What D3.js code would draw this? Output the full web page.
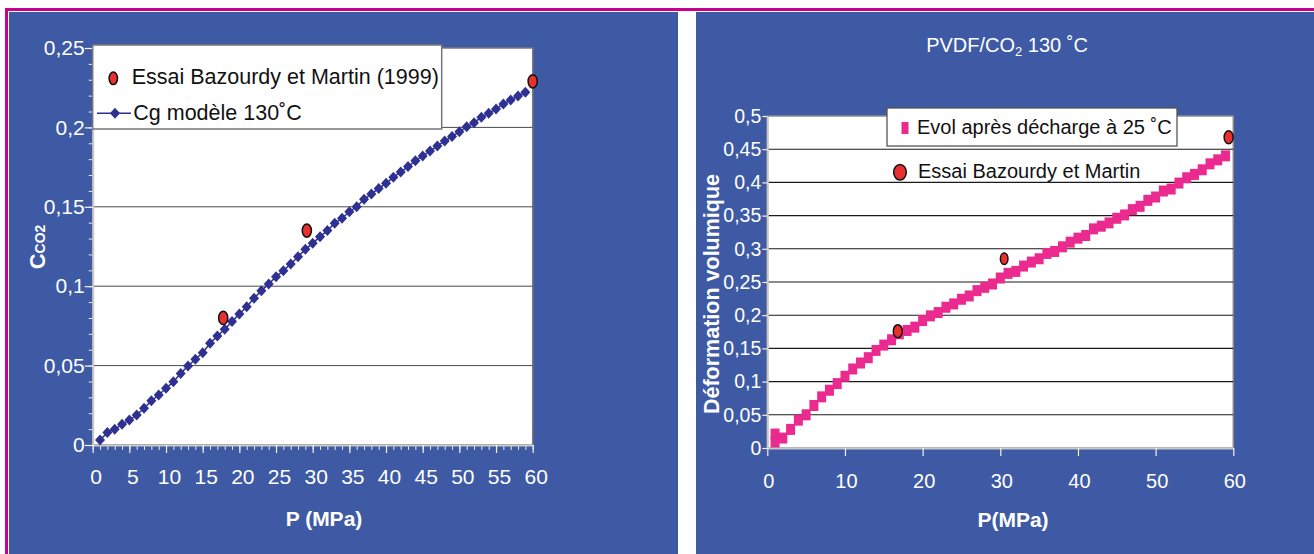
<!DOCTYPE html>
<html>
<head>
<meta charset="utf-8">
<script src="https://d3js.org/d3.v7.min.js"></script>
<style>
html, body { margin: 0; padding: 0; background: #fff; }
svg { display: block; }
</style>
</head>
<body>
<svg id="chart" width="1314" height="554"></svg>
<script>
// ---- Left chart data: CO2 concentration vs pressure
const pressureLeft = [1, 2, 3, 4, 5, 6, 7, 8, 9, 10, 11, 12, 13, 14, 15, 16, 17, 18, 19, 20,
    21, 22, 23, 24, 25, 26, 27, 28, 29, 30, 31, 32, 33, 34, 35, 36, 37, 38, 39, 40,
    41, 42, 43, 44, 45, 46, 47, 48, 49, 50, 51, 52, 53, 54, 55, 56, 57, 58, 59];
const ccoModel = [0.0031, 0.0078, 0.0099, 0.013, 0.0157, 0.0189, 0.0231, 0.0279, 0.0315, 0.0357,
    0.0399, 0.0451, 0.0497, 0.054, 0.0581, 0.064, 0.0686, 0.0729, 0.0777, 0.0825,
    0.0871, 0.0924, 0.0972, 0.1014, 0.106, 0.1098, 0.114, 0.1186, 0.1232, 0.127,
    0.1312, 0.135, 0.1396, 0.1428, 0.1469, 0.1501, 0.1547, 0.1581, 0.1616, 0.1648,
    0.1686, 0.1719, 0.1753, 0.179, 0.182, 0.1851, 0.1883, 0.1914, 0.1942, 0.1973,
    0.2004, 0.203, 0.2064, 0.2089, 0.2116, 0.2147, 0.2173, 0.2198, 0.2221];
const essaiLeftP = [17.8, 29.2, 60];
const essaiLeftC = [0.080, 0.135, 0.229];
const leftXTicks = [0, 5, 10, 15, 20, 25, 30, 35, 40, 45, 50, 55, 60];
const leftYTicks = [0, 0.05, 0.1, 0.15, 0.2, 0.25];
const leftYLabels = ["0", "0,05", "0,1", "0,15", "0,2", "0,25"];

// ---- Right chart data: volume deformation vs pressure
const pressureRight = [1, 1, 2, 3, 4, 5, 6, 7, 8, 9, 10, 11, 12, 13, 14, 15, 16, 17, 18, 19, 20,
    21, 22, 23, 24, 25, 26, 27, 28, 29, 30, 31, 32, 33, 34, 35, 36, 37, 38, 39, 40,
    41, 42, 43, 44, 45, 46, 47, 48, 49, 50, 51, 52, 53, 54, 55, 56, 57, 58, 59];
const deformation = [0.021, 0.009, 0.015, 0.028, 0.042, 0.050, 0.064, 0.077, 0.087, 0.097, 0.108,
    0.119, 0.128, 0.136, 0.147, 0.155, 0.163, 0.172, 0.177, 0.182, 0.192,
    0.199, 0.204, 0.212, 0.217, 0.224, 0.229, 0.237, 0.242, 0.247, 0.256,
    0.263, 0.266, 0.274, 0.280, 0.285, 0.293, 0.296, 0.303, 0.310, 0.316,
    0.320, 0.330, 0.334, 0.339, 0.346, 0.351, 0.359, 0.364, 0.373, 0.378,
    0.387, 0.390, 0.399, 0.407, 0.412, 0.419, 0.428, 0.434, 0.440];
const essaiRightP = [16.8, 30.5, 59.4];
const essaiRightD = [0.176, 0.285, 0.468];
const rightXTicks = [0, 10, 20, 30, 40, 50, 60];
const rightYTicks = [0, 0.05, 0.1, 0.15, 0.2, 0.25, 0.3, 0.35, 0.4, 0.45, 0.5];
const rightYLabels = ["0", "0,05", "0,1", "0,15", "0,2", "0,25", "0,3", "0,35", "0,4", "0,45", "0,5"];

const BLUE = "#3e5aa4";
const MAGENTA = "#c8008e";
const NAVY = "#2e3192";
const PINK = "#ea2a8f";
const RED = "#e8302e";
const FONT = "'Liberation Sans', Arial, Helvetica, sans-serif";

const svg = d3.select("#chart").attr("font-family", FONT);

// page frame: blue panels, magenta rules
svg.append("rect").attr("x", 0).attr("y", 0).attr("width", 1314).attr("height", 554).attr("fill", "#fff");
svg.append("rect").attr("x", 9).attr("y", 12).attr("width", 669).attr("height", 542).attr("fill", BLUE);
svg.append("rect").attr("x", 696).attr("y", 12).attr("width", 618).attr("height", 542).attr("fill", BLUE);
svg.append("rect").attr("x", 5).attr("y", 8).attr("width", 1309).attr("height", 3).attr("fill", MAGENTA);
svg.append("rect").attr("x", 5).attr("y", 8).attr("width", 3).attr("height", 546).attr("fill", MAGENTA);

function styleAxis(g, size) {
    g.attr("font-family", FONT).attr("font-size", size);
    g.select(".domain").attr("stroke", "#c8c8c8").attr("stroke-width", 2);
    g.selectAll(".tick line").attr("stroke", "#f2f2f2").attr("stroke-width", 1.2);
    g.selectAll(".tick text").attr("fill", "#fff");
}

const diamond = "M0,-5.5L5,0L0,5.5L-5,0Z";

// ================= LEFT CHART =================
const xL = d3.scaleLinear().domain([0, 60]).range([92.7, 532.7]);
const yL = d3.scaleLinear().domain([0, 0.25]).range([445, 48]);

svg.append("rect")
    .attr("x", xL(0)).attr("y", yL(0.25))
    .attr("width", xL(60) - xL(0)).attr("height", yL(0) - yL(0.25))
    .attr("fill", "#fff").attr("stroke", "#7a7a7a").attr("stroke-width", 1.5);

svg.append("g").selectAll("line")
    .data(leftYTicks.slice(1, -1))
    .join("line")
    .attr("x1", xL(0)).attr("x2", xL(60))
    .attr("y1", d => yL(d)).attr("y2", d => yL(d))
    .attr("stroke", "#4a4a4a").attr("stroke-width", 1);

// minor ticks
svg.append("g")
    .attr("transform", `translate(${xL(0)},0)`)
    .call(d3.axisLeft(yL).tickValues(d3.range(0, 0.2501, 0.01)).tickSize(4).tickFormat(""))
    .call(g => { g.select(".domain").remove(); g.selectAll("line").attr("stroke", "#e8e8e8"); });
svg.append("g")
    .attr("transform", `translate(0,${yL(0)})`)
    .call(d3.axisBottom(xL).tickValues(d3.range(0, 61, 1)).tickSize(5).tickFormat(""))
    .call(g => { g.select(".domain").remove(); g.selectAll("line").attr("stroke", "#e8e8e8"); });

svg.append("g")
    .attr("transform", `translate(${xL(0)},0)`)
    .call(d3.axisLeft(yL).tickValues(leftYTicks).tickFormat((d, i) => leftYLabels[i])
        .tickSize(8).tickSizeOuter(0).tickPadding(0))
    .call(g => styleAxis(g, 21));

svg.append("g")
    .attr("transform", `translate(0,${yL(0)})`)
    .call(d3.axisBottom(xL).tickValues(leftXTicks).tickSize(8).tickSizeOuter(0).tickPadding(16))
    .call(g => styleAxis(g, 21))
    .call(g => g.selectAll(".tick text").attr("dx", 3));

// model line + diamonds
const leftPts = pressureLeft.map((p, i) => [p, ccoModel[i]]);
svg.append("path")
    .datum(leftPts)
    .attr("fill", "none").attr("stroke", NAVY).attr("stroke-width", 1.5)
    .attr("d", d3.line().x(d => xL(d[0])).y(d => yL(d[1])));
svg.append("g").selectAll("path")
    .data(leftPts)
    .join("path")
    .attr("d", diamond)
    .attr("transform", d => `translate(${xL(d[0])},${yL(d[1])})`)
    .attr("fill", NAVY);

// test points
svg.append("g").selectAll("ellipse")
    .data(essaiLeftP.map((p, i) => [p, essaiLeftC[i]]))
    .join("ellipse")
    .attr("cx", d => xL(d[0])).attr("cy", d => yL(d[1]))
    .attr("rx", 4.6).attr("ry", 6.6)
    .attr("fill", RED).attr("stroke", "#111").attr("stroke-width", 1.5);

// legend
const legL = svg.append("g");
legL.append("rect").attr("x", 92.7).attr("y", 45).attr("width", 349).attr("height", 84)
    .attr("fill", "#fff").attr("stroke", "#777").attr("stroke-width", 1.5);
legL.append("ellipse").attr("cx", 113.3).attr("cy", 78.3).attr("rx", 4.2).attr("ry", 6.3)
    .attr("fill", RED).attr("stroke", "#111").attr("stroke-width", 1.5);
legL.append("text").attr("x", 131.7).attr("y", 84).attr("font-size", 21.5).attr("fill", "#111")
    .text("Essai Bazourdy et Martin (1999)");
legL.append("line").attr("x1", 97).attr("x2", 131).attr("y1", 113.3).attr("y2", 113.3)
    .attr("stroke", NAVY).attr("stroke-width", 1.5);
legL.append("path").attr("d", diamond).attr("transform", "translate(115,113.3)").attr("fill", NAVY);
legL.append("text").attr("x", 133.3).attr("y", 120).attr("font-size", 21.5).attr("fill", "#111")
    .text("Cg modèle 130˚C");

// axis titles
svg.append("text").attr("x", 324).attr("y", 526).attr("text-anchor", "middle")
    .attr("font-size", 21).attr("font-weight", "bold").attr("fill", "#fff").text("P (MPa)");
const yTitleL = svg.append("text")
    .attr("transform", "translate(45,247) rotate(-90)")
    .attr("text-anchor", "middle").attr("font-weight", "bold").attr("fill", "#fff");
yTitleL.append("tspan").attr("font-size", 22).text("C");
yTitleL.append("tspan").attr("font-size", 14).text("CO2");

// ================= RIGHT CHART =================
const xR = d3.scaleLinear().domain([0, 60]).range([767.3, 1233.3]);
const yR = d3.scaleLinear().domain([0, 0.5]).range([448, 116]);

svg.append("rect")
    .attr("x", xR(0)).attr("y", yR(0.5))
    .attr("width", xR(60) - xR(0)).attr("height", yR(0) - yR(0.5))
    .attr("fill", "#fff").attr("stroke", "#8a8a8a").attr("stroke-width", 1.5);

svg.append("g").selectAll("line")
    .data(rightYTicks.slice(1, -1))
    .join("line")
    .attr("x1", xR(0)).attr("x2", xR(60))
    .attr("y1", d => yR(d)).attr("y2", d => yR(d))
    .attr("stroke", "#1a1a1a").attr("stroke-width", 1.1);

svg.append("g")
    .attr("transform", `translate(${xR(0)},0)`)
    .call(d3.axisLeft(yR).tickValues(rightYTicks).tickFormat((d, i) => rightYLabels[i])
        .tickSize(5).tickSizeOuter(0).tickPadding(1))
    .call(g => styleAxis(g, 19.5));

svg.append("g")
    .attr("transform", `translate(0,${yR(0)})`)
    .call(d3.axisBottom(xR).tickValues(rightXTicks).tickSize(8).tickSizeOuter(0).tickPadding(18))
    .call(g => styleAxis(g, 20))
    .call(g => g.selectAll(".tick text").attr("dx", 1));

// series line + squares
const rightPts = pressureRight.map((p, i) => [p, deformation[i]]);
svg.append("path")
    .datum(rightPts)
    .attr("fill", "none").attr("stroke", PINK).attr("stroke-width", 1.5)
    .attr("d", d3.line().x(d => xR(d[0])).y(d => yR(d[1])));
svg.append("g").selectAll("rect")
    .data(rightPts)
    .join("rect")
    .attr("x", d => xR(d[0]) - 4.5).attr("y", d => yR(d[1]) - 5.5)
    .attr("width", 9).attr("height", 11)
    .attr("fill", PINK);

// test points
const essaiR = essaiRightP.map((p, i) => [p, essaiRightD[i]]);
svg.append("g").selectAll("ellipse")
    .data(essaiR)
    .join("ellipse")
    .attr("cx", d => xR(d[0])).attr("cy", d => yR(d[1]))
    .attr("rx", (d, i) => i === 1 ? 3.8 : 4.5).attr("ry", (d, i) => i === 1 ? 5.8 : 6.5)
    .attr("fill", RED).attr("stroke", "#111").attr("stroke-width", 1.5);

// legend
const legR = svg.append("g");
legR.append("rect").attr("x", 887).attr("y", 108).attr("width", 290).attr("height", 38)
    .attr("fill", "#fff").attr("stroke", "#555").attr("stroke-width", 1.3);
legR.append("rect").attr("x", 901.5).attr("y", 122).attr("width", 7).attr("height", 12).attr("fill", PINK);
legR.append("text").attr("x", 917).attr("y", 134).attr("font-size", 20).attr("fill", "#111")
    .text("Evol après décharge à 25 ˚C");
legR.append("ellipse").attr("cx", 900).attr("cy", 172.3).attr("rx", 6.3).attr("ry", 7.8)
    .attr("fill", RED).attr("stroke", "#111").attr("stroke-width", 1.5);
legR.append("text").attr("x", 918).attr("y", 178).attr("font-size", 20).attr("fill", "#111")
    .text("Essai Bazourdy et Martin");

// title + axis titles
const titleR = svg.append("text").attr("x", 1007).attr("y", 52).attr("text-anchor", "middle")
    .attr("font-size", 20).attr("fill", "#fff");
titleR.append("tspan").text("PVDF/CO");
titleR.append("tspan").attr("font-size", 13).attr("dy", 4).text("2");
titleR.append("tspan").attr("dy", -4).text(" 130 ˚C");

svg.append("text").attr("x", 1013).attr("y", 527).attr("text-anchor", "middle")
    .attr("font-size", 21).attr("font-weight", "bold").attr("fill", "#fff").text("P(MPa)");
svg.append("text")
    .attr("transform", "translate(719,294) rotate(-90)")
    .attr("text-anchor", "middle").attr("font-size", 21.5).attr("font-weight", "bold")
    .attr("fill", "#fff").text("Déformation volumique");
</script>
</body>
</html>
